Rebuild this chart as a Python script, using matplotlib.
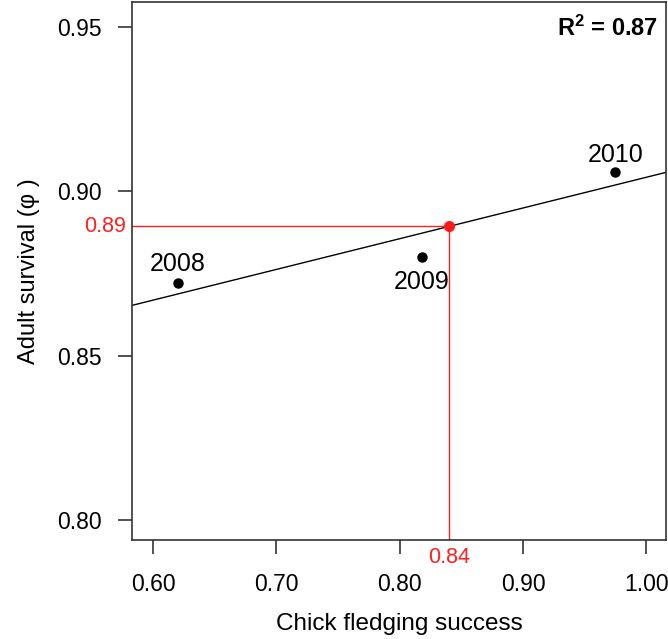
import numpy as np
import matplotlib.pyplot as plt
from matplotlib import transforms

plt.rcParams['font.family'] = ['Liberation Sans', 'DejaVu Sans']
plt.rcParams['mathtext.fontset'] = 'custom'
plt.rcParams['mathtext.rm'] = 'Liberation Sans'
plt.rcParams['mathtext.bf'] = 'Liberation Sans:bold'

# data
years = ['2008', '2009', '2010']
fledging = [0.62, 0.818, 0.975]
survival = [0.872, 0.880, 0.906]
x_pred = 0.84
xticks = [0.60, 0.70, 0.80, 0.90, 1.00]
yticks = [0.80, 0.85, 0.90, 0.95]

slope, icpt = np.polyfit(fledging, survival, 1)
y_pred = slope * x_pred + icpt
r2 = np.corrcoef(fledging, survival)[0, 1] ** 2

fig = plt.figure(figsize=(6.68, 6.39), dpi=100)
ax = fig.add_axes([0.1976, 0.155, 0.7994, 0.842])
xlim = (0.583, 1.016)
ylim = (0.794, 0.9576)
ax.set_xlim(xlim)
ax.set_ylim(ylim)

xx = np.array(xlim)
ax.plot(xx, slope * xx + icpt, color='black', lw=1)

ax.plot([xlim[0], x_pred], [y_pred, y_pred], color='#ff2020', lw=1)
ax.plot([x_pred, x_pred], [ylim[0], y_pred], color='#ff2020', lw=1)
ax.plot(fledging, survival, 'o', color='black', ms=6.5)
ax.plot([x_pred], [y_pred], 'o', color='#ff1a1a', ms=7, zorder=5)

# label offsets (baseline relative to point)
offs = [0.0037, -0.0097, 0.003]
for yr, x, y, o in zip(years, fledging, survival, offs):
    ax.text(x, y + o, yr, ha='center', va='baseline', fontsize=18)

ax.text(0.985, 0.975, r'$\mathbf{R^2}$ = %.2f' % r2, transform=ax.transAxes,
        ha='right', va='top', fontsize=17, fontweight='bold')

# red marginal labels
tb = transforms.blended_transform_factory(ax.transAxes, ax.transData)
ax.text(-0.011, y_pred, '%.2f' % y_pred, transform=tb, ha='right',
        va='center', color='#ff2020', fontsize=15.5)
tb2 = transforms.blended_transform_factory(ax.transData, ax.transAxes)
ax.text(x_pred, -0.014, '%.2f' % x_pred, transform=tb2, ha='center',
        va='top', color='#ff2020', fontsize=15.5)

ax.set_xticks(xticks)
ax.set_xticklabels(['%.2f' % v for v in xticks])
ax.set_yticks(yticks)
ax.set_yticklabels(['%.2f' % v for v in yticks])
ax.tick_params(direction='out', length=10, width=1.2, labelsize=16.5,
               color='#333333', pad=12)
ax.tick_params(axis='x', pad=14)
for s in ax.spines.values():
    s.set_color('#333333')
    s.set_linewidth(1.2)

ax.set_xlabel('Chick fledging success', fontsize=17.5, labelpad=12)
ax.set_ylabel('Adult survival (\u03c6 )', fontsize=17, labelpad=12)

fig.savefig('out.png', dpi=100)
